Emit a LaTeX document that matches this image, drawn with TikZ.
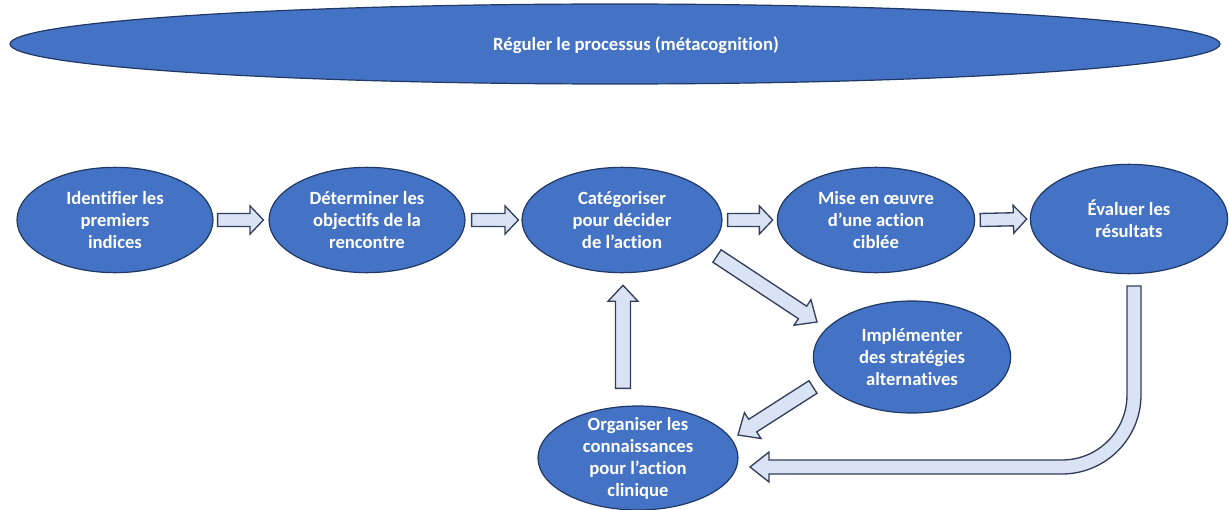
\documentclass[tikz,border=0pt]{standalone}
\usepackage{fontspec}
\setmainfont{Carlito}[Ligatures=NoCommon]
\usetikzlibrary{calc,shapes.geometric}

\definecolor{bubfill}{HTML}{4472C4}
\definecolor{bubline}{HTML}{203864}
\definecolor{arrfill}{HTML}{DAE3F3}
\definecolor{arrline}{HTML}{323F5C}

\tikzset{
  bubble/.style={ellipse, draw=bubline, fill=bubfill, line width=0.9pt, inner sep=0pt},
  bubtext/.style={text=white, font=\fontsize{14pt}{16.5pt}\selectfont\bfseries, align=center, inner sep=0pt},
  barrow/.style={draw=arrline, fill=arrfill, line width=1pt, line join=miter},
}

% straight block arrow: tail, tip, half shaft width, half head width, head length
\newcommand\blockarrow[5]{%
  \draw[barrow] let \p1=($(#2)-(#1)$), \n1={atan2(\y1,\x1)}, \n2={veclen(\x1,\y1)-#5} in
    ($(#1)+(\n1+90:#3)$) -- ($(#1)+(\n1:\n2)+(\n1+90:#3)$)
    -- ($(#1)+(\n1:\n2)+(\n1+90:#4)$) -- (#2)
    -- ($(#1)+(\n1:\n2)+(\n1-90:#4)$) -- ($(#1)+(\n1:\n2)+(\n1-90:#3)$)
    -- ($(#1)+(\n1-90:#3)$) -- cycle;}

\begin{document}
\begin{tikzpicture}[x=0.75pt, y=-0.75pt]
\useasboundingbox (0,0) rectangle (1229,510);

% regulation band
\node[bubble, minimum width=907.5pt, minimum height=60pt] (meta) at (615,44) {};
\node[bubtext] (metat) at (636,45) {Réguler le processus (métacognition)};

% main sequence
\node[bubble, minimum width=147pt, minimum height=79pt] (n1) at (115,220) {};
\node[bubble, minimum width=147pt, minimum height=79pt] (n2) at (367,220) {};
\node[bubble, minimum width=150pt, minimum height=79pt] (n3) at (622,220) {};
\node[bubble, minimum width=148pt, minimum height=79pt] (n4) at (876,220) {};
\node[bubble, minimum width=148pt, minimum height=82pt] (n5) at (1129,219) {};
\node[bubble, minimum width=148pt, minimum height=84pt] (n6) at (912,357) {};
\node[bubble, minimum width=150pt, minimum height=78pt] (n7) at (638,458) {};

\node[bubtext] (t1) at (n1) {Identifier les\\premiers\\indices};
\node[bubtext] (t2) at (n2) {Déterminer les\\objectifs de la\\rencontre};
\node[bubtext] (t3) at (n3) {Catégoriser\\pour décider\\de l’action};
\node[bubtext] (t4) at (n4) {Mise en œuvre\\d’une action\\ciblée};
\node[bubtext] (t5) at (n5) {Évaluer les\\résultats};
\node[bubtext] (t6) at (n6) {Implémenter\\des stratégies\\alternatives};
\node[bubtext] (t7) at (n7) {Organiser les\\connaissances\\pour l’action\\clinique};

% arrow end points
\coordinate (a1s) at ($(n1.east)+(4,0)$);  \coordinate (a1e) at ($(n2.west)+(-5,0)$);
\coordinate (a2s) at ($(n2.east)+(6,0)$);  \coordinate (a2e) at ($(n3.west)+(-3,0)$);
\coordinate (a3s) at ($(n3.east)+(5,0)$);  \coordinate (a3e) at ($(n4.west)+(-4,0)$);
\coordinate (a4s) at ($(n4.east)+(5,0)$);  \coordinate (a4e) at ($(n5.west)+(-3,0)$);
\coordinate (d1s) at ($(n3)+(95,36)$);     \coordinate (d1e) at ($(n6)+(-95,-35)$);
\coordinate (ups) at ($(n7.north)+(-15,-17)$); \coordinate (upe) at ($(n3.south)+(1,12)$);
\coordinate (d2s) at ($(n6)+(-99,30)$);    \coordinate (d2e) at ($(n7)+(100,-23)$);

\blockarrow{a1s}{a1e}{4.9pt}{10.5pt}{10pt}
\blockarrow{a2s}{a2e}{4.9pt}{10.5pt}{10pt}
\blockarrow{a3s}{a3e}{4.9pt}{10.5pt}{10pt}
\blockarrow{a4s}{a4e}{4.9pt}{10.5pt}{10pt}
\blockarrow{d1s}{d1e}{5.6pt}{11.5pt}{13pt}
\blockarrow{ups}{upe}{5.6pt}{11.25pt}{12pt}
\blockarrow{d2s}{d2e}{5.6pt}{11.5pt}{13pt}

% return loop from the evaluation back to knowledge organisation
\draw[barrow] (1127,286) -- (1141,286) -- (1141,395)
  .. controls (1141,438.6) and (1105.6,474) .. (1062,474)
  -- (769,474) -- (769,482) -- (750,467) -- (769,452) -- (769,460)
  -- (1062,460) .. controls (1097.9,460) and (1127,430.9) .. (1127,395) -- cycle;
\end{tikzpicture}
\end{document}
